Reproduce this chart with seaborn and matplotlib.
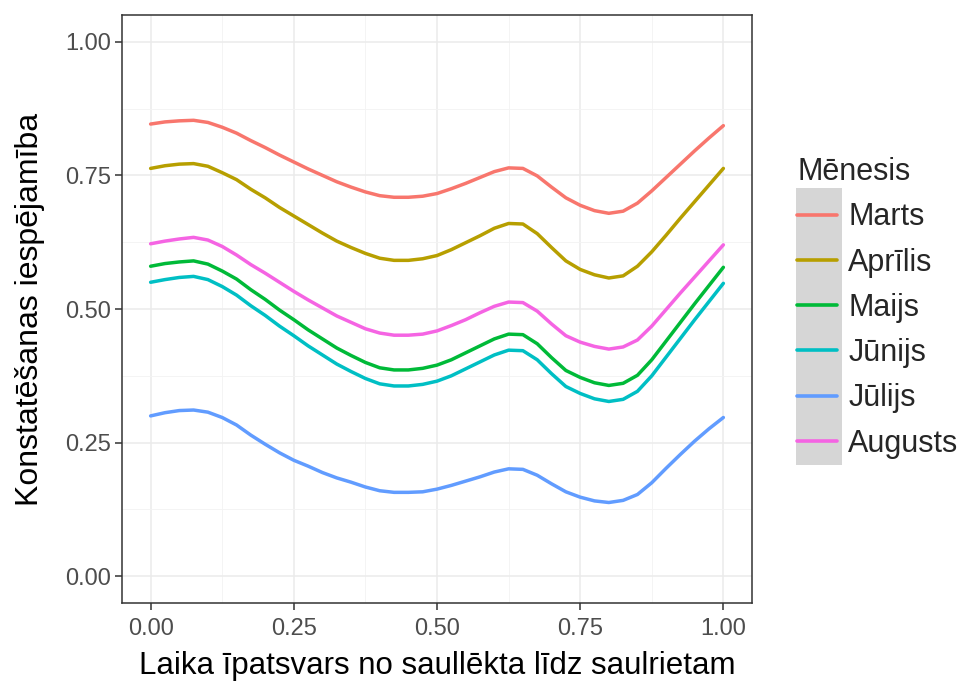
import matplotlib
matplotlib.use("Agg")
import matplotlib.pyplot as plt
import numpy as np
import pandas as pd
import seaborn as sns
from matplotlib.patches import Rectangle
from matplotlib.ticker import FixedLocator

# ---- data ----
x_vals = [0, .025, .05, .075, .1, .125, .15, .175, .2, .225, .25, .275, .3, .325,
          .35, .375, .4, .425, .45, .475, .5, .525, .55, .575, .6, .625, .65,
          .675, .7, .725, .75, .775, .8, .825, .85, .875, .9, .925, .95, .975, 1.0]

marts = [.846, .850, .852, .853, .849, .840, .829, .815, .802, .788, .775, .762, .750, .738,
         .728, .719, .712, .709, .709, .711, .716, .725, .735, .746, .757, .764, .763,
         .749, .728, .708, .694, .684, .679, .683, .698, .721, .746, .771, .796, .820, .843]
aprilis = [.763, .768, .771, .772, .767, .755, .742, .724, .708, .690, .674, .658, .642, .627,
           .615, .604, .595, .591, .591, .594, .600, .611, .624, .637, .651, .660, .659,
           .641, .615, .590, .574, .564, .558, .562, .580, .607, .638, .670, .701, .732, .763]
maijs = [.580, .585, .588, .590, .584, .571, .556, .536, .518, .498, .480, .461, .444, .427,
         .413, .400, .390, .386, .386, .389, .395, .405, .418, .431, .444, .453, .452,
         .435, .409, .385, .372, .362, .357, .361, .376, .405, .440, .475, .510, .544, .578]
junijs = [.550, .555, .559, .561, .555, .542, .526, .506, .488, .468, .450, .431, .414, .397,
          .383, .370, .360, .356, .356, .359, .365, .375, .388, .401, .414, .423, .422,
          .405, .379, .355, .342, .332, .327, .331, .346, .375, .410, .445, .480, .514, .548]
julijs = [.300, .306, .310, .311, .307, .297, .283, .264, .247, .231, .217, .206, .194, .184,
          .176, .167, .160, .157, .157, .158, .163, .170, .178, .186, .195, .201, .200,
          .189, .173, .158, .148, .141, .138, .142, .153, .175, .202, .228, .253, .276, .297]
augusts = [.622, .627, .631, .634, .629, .617, .601, .583, .567, .550, .533, .517, .502, .487,
           .475, .463, .455, .451, .451, .453, .459, .469, .480, .493, .505, .513, .512,
           .496, .472, .450, .438, .430, .425, .429, .442, .468, .499, .530, .560, .590, .620]

months = ["Marts", "Aprīlis", "Maijs", "Jūnijs", "Jūlijs", "Augusts"]
series = [marts, aprilis, maijs, junijs, julijs, augusts]
colors = ["#F8766D", "#B79F00", "#00BA38", "#00BFC4", "#619CFF", "#F564E3"]

tick_vals = [0, 0.25, 0.5, 0.75, 1.0]
tick_labels = ["0.00", "0.25", "0.50", "0.75", "1.00"]
minor_vals = [0.125, 0.375, 0.625, 0.875]

df = pd.concat([pd.DataFrame({"x": x_vals, "y": v, "Mēnesis": m})
                for m, v in zip(months, series)], ignore_index=True)

sns.set_theme(style="white")
plt.rcParams['font.family'] = ['Liberation Sans', 'DejaVu Sans']

W, H = 965, 684
fig = plt.figure(figsize=(W / 100, H / 100), dpi=100)
fig.patch.set_facecolor("white")
ax = fig.add_axes([122 / W, 81 / H, 630 / W, 588 / H])

sns.lineplot(data=df, x="x", y="y", hue="Mēnesis", hue_order=months,
             palette=colors, linewidth=2.5, estimator=None, ax=ax)
for ln in ax.get_lines():
    ln.set_solid_joinstyle("round")

ax.set_xlim(-0.05, 1.05)
ax.set_ylim(-0.05, 1.05)
ax.set_xticks(tick_vals, labels=tick_labels)
ax.set_yticks(tick_vals, labels=tick_labels)
ax.xaxis.set_minor_locator(FixedLocator(minor_vals))
ax.yaxis.set_minor_locator(FixedLocator(minor_vals))
ax.grid(which="major", color="#EBEBEB", linewidth=1.1)
ax.grid(which="minor", color="#F3F3F3", linewidth=0.6)
ax.set_axisbelow(True)
for s in ax.spines.values():
    s.set_color("#333333")
    s.set_linewidth(1.1)
ax.tick_params(which="major", direction="out", length=5, width=1.1,
               color="#333333", labelsize=17, labelcolor="#4D4D4D",
               bottom=True, left=True)
ax.tick_params(axis="x", which="major", pad=6)
ax.tick_params(axis="y", which="major", pad=3)
ax.tick_params(which="minor", length=0)

ax.set_xlabel("Laika īpatsvars no saullēkta līdz saulrietam", fontsize=22.5,
              color="black", labelpad=8)
ax.set_ylabel("Konstatēšanas iespējamība", fontsize=23, color="black", labelpad=14)

sns.move_legend(ax, "upper left", bbox_to_anchor=((797 - 122) / 630, (603 - 157) / 588),
                frameon=False, title="Mēnesis", fontsize=22, title_fontsize=22,
                handlelength=1.3, handletextpad=0.38, labelspacing=0.5,
                borderpad=0, borderaxespad=0, alignment="left")
leg = ax.get_legend()
for ln in leg.get_lines():
    ln.set_linewidth(2.6)

key_bg = Rectangle((796 / W, 1 - 465 / H), 46 / W, 277 / H, transform=fig.transFigure,
                   facecolor="#D6D6D6", edgecolor="none", zorder=0)
fig.add_artist(key_bg)

fig.savefig("out.png", dpi=100)
